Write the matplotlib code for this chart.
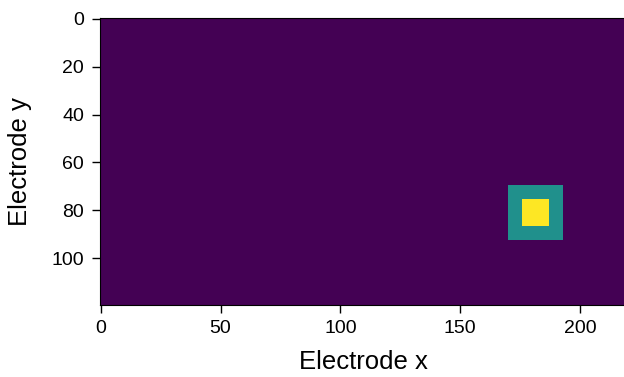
import numpy as np
import matplotlib
matplotlib.use("Agg")
import matplotlib.pyplot as plt

plt.rcParams['font.family'] = ['Liberation Sans', 'DejaVu Sans']

# grid of electrodes and the marked region
n_rows = 120
n_cols = 220
center_x = 181
center_y = 81
outer_half = 11   # value 1 region
inner_half = 5    # value 2 region
levels = [0, 1, 2]

grid = np.full((n_rows, n_cols), levels[0])
grid[center_y - outer_half:center_y + outer_half + 1,
     center_x - outer_half:center_x + outer_half + 1] = levels[1]
grid[center_y - inner_half:center_y + inner_half + 1,
     center_x - inner_half:center_x + inner_half + 1] = levels[2]

fig = plt.figure(figsize=(6.24, 3.77), dpi=100)
# axes run slightly past the right edge of the figure, as in the original
ax = fig.add_axes([99.5 / 624, 72 / 377, n_cols * 2.397 / 624, 287.5 / 377])
ax.imshow(grid, cmap='viridis', aspect='auto', interpolation='nearest')

ax.set_xticks([0, 50, 100, 150, 200])
ax.set_yticks([0, 20, 40, 60, 80, 100])
ax.tick_params(labelsize=14, length=6, width=1, pad=5)
ax.set_xlabel("Electrode x", fontsize=18.5, labelpad=9)
ax.set_ylabel("Electrode y", fontsize=18.5, labelpad=14)

fig.savefig("out.png", dpi=100)
